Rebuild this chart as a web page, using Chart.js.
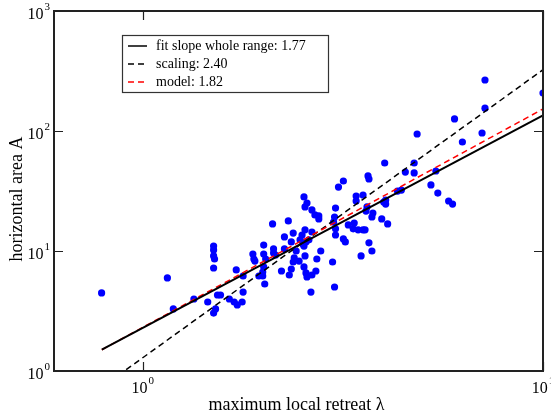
<!DOCTYPE html>
<html>
<head>
<meta charset="utf-8">
<script src="https://cdn.jsdelivr.net/npm/chart.js@4.4.1/dist/chart.umd.min.js"></script>
<style>
  html, body { margin: 0; padding: 0; background: #fff; }
</style>
</head>
<body>
<canvas id="retreatChart" width="551" height="419"></canvas>
<script>
// ── DATA ──
const retreat = [
  0.789, 1.152, 1.192, 1.342, 1.453, 1.503, 1.503, 1.503, 1.511, 1.503,
  1.537, 1.564, 1.520, 1.503, 1.645, 1.692, 1.722, 1.771, 1.781, 1.712,
  1.781, 1.884, 1.895, 1.906, 2.005, 2.005, 2.028, 2.005, 1.994, 1.994,
  1.950, 2.017, 2.110, 2.122, 2.122, 2.146, 2.221, 2.259, 2.259, 2.310,
  2.376, 2.350, 2.417, 2.390, 2.376, 2.458, 2.350, 2.323, 2.500, 2.543,
  2.646, 2.472, 2.514, 2.557, 2.601, 2.528, 2.543, 2.528, 2.557, 2.572,
  2.631, 2.646, 2.707, 2.722, 2.784, 2.528, 2.572, 2.543, 2.646, 2.692,
  2.753, 2.753, 2.980, 3.014, 3.031, 3.014, 2.997, 3.031, 3.031, 3.083,
  3.171, 3.171, 3.207, 3.262, 3.375, 3.356, 3.413, 3.413, 3.551, 3.452,
  3.551, 3.592, 3.511, 3.654, 3.674, 3.674, 3.737, 3.612, 3.633, 3.758,
  3.737, 3.954, 4.091, 4.022, 3.999, 4.045, 4.045, 4.329, 4.428, 4.529,
  4.765, 4.765, 4.847, 5.248, 5.399, 5.460, 5.810, 5.943, 6.011, 6.289,
  7.042, 7.162, 7.162, 10.0
];
const area = [
  4.47, 5.96, 3.29, 3.98, 3.76, 11.0, 10.2, 9.09, 8.58, 7.22,
  4.30, 4.30, 3.29, 3.04, 3.98, 3.76, 3.55, 3.76, 4.55, 6.95,
  6.19, 9.44, 8.58, 8.25, 11.2, 9.44, 8.58, 7.36, 6.68, 6.19,
  6.19, 5.31, 16.8, 10.4, 9.62, 9.26, 6.81, 13.1, 10.4, 17.8,
  14.1, 11.9, 10.0, 8.75, 8.10, 8.25, 7.08, 6.31, 13.6, 15.0,
  14.4, 12.4, 11.4, 11.9, 12.4, 11.0, 9.09, 7.36, 6.56, 6.07,
  4.55, 6.31, 6.81, 8.58, 10.0, 28.2, 25.1, 23.3, 22.0, 20.0,
  19.6, 18.5, 8.10, 5.01, 22.8, 19.2, 17.4, 15.3, 13.6, 34.1,
  38.3, 12.6, 11.9, 16.5, 17.1, 15.3, 28.7, 26.1, 29.3, 15.0,
  15.0, 15.0, 9.09, 42.2, 39.8, 11.7, 10.0, 21.5, 23.3, 20.7,
  19.2, 18.5, 16.8, 54.1, 25.6, 26.6, 24.6, 31.6, 32.2, 45.5,
  54.1, 44.7, 94.4, 35.5, 46.4, 30.4, 26.1, 24.6, 126, 81.0,
  96.2, 266, 155, 207
];

// power laws A = coef * lambda^slope
const fitSlope = 1.77,     fitCoef = 2.29;
const scalingSlope = 2.40, scalingCoef = 1.29;
const modelSlope = 1.82,   modelCoef = 2.31;
const lineRange = [0.79, 10];

const legendLabels = ['fit slope whole range: 1.77', 'scaling: 2.40', 'model: 1.82'];
const xTicks = [1, 10];
const yTicks = [1, 10, 100, 1000];
const xTitle = 'maximum local retreat \u03bb';
const yTitle = 'horizontal area A';

const SERIF = '"Liberation Serif", "DejaVu Serif", serif';

function powerLine(coef, slope) {
  return lineRange.map(x => ({ x, y: coef * Math.pow(x, slope) }));
}

// ── FRAME, TICKS, LABELS, LEGEND ──
function drawPow(ctx, exp, x, y, align) {
  ctx.font = '16px ' + SERIF;
  const wBase = ctx.measureText('10').width;
  ctx.font = '11px ' + SERIF;
  const wExp = ctx.measureText(String(exp)).width;
  const total = wBase + 1 + wExp;
  let left = align === 'right' ? x - total : x - total / 2;
  ctx.textAlign = 'left';
  ctx.textBaseline = 'alphabetic';
  ctx.font = '16px ' + SERIF;
  ctx.fillText('10', left, y);
  ctx.font = '11px ' + SERIF;
  ctx.fillText(String(exp), left + wBase + 1, y - 9);
}

const framePlugin = {
  id: 'frame',
  afterDatasetsDraw(chart) {
    const { ctx, chartArea: a, scales: { x, y } } = chart;
    ctx.save();
    ctx.fillStyle = '#000';
    ctx.strokeStyle = '#222';

    // ticks (inward, on all four sides)
    ctx.lineWidth = 1.2;
    const tl = 9;
    xTicks.forEach(v => {
      const px = Math.round(x.getPixelForValue(v)) + 0.5;
      ctx.beginPath();
      ctx.moveTo(px, a.bottom); ctx.lineTo(px, a.bottom - tl);
      ctx.moveTo(px, a.top);    ctx.lineTo(px, a.top + tl);
      ctx.stroke();
    });
    yTicks.forEach(v => {
      const py = Math.round(y.getPixelForValue(v)) + 0.5;
      ctx.beginPath();
      ctx.moveTo(a.left, py);  ctx.lineTo(a.left + tl, py);
      ctx.moveTo(a.right, py); ctx.lineTo(a.right - tl, py);
      ctx.stroke();
    });

    // frame
    ctx.lineWidth = 2;
    ctx.strokeRect(a.left, a.top, a.right - a.left, a.bottom - a.top);

    // tick labels
    xTicks.forEach(v => drawPow(ctx, Math.round(Math.log10(v)), x.getPixelForValue(v), a.bottom + 22, 'center'));
    yTicks.forEach(v => drawPow(ctx, Math.round(Math.log10(v)), a.left - 4, y.getPixelForValue(v) + 8, 'right'));

    // axis titles
    ctx.font = '18px ' + SERIF;
    ctx.textAlign = 'center';
    ctx.textBaseline = 'middle';
    ctx.fillText(xTitle, (a.left + a.right) / 2 - 2, 405);
    ctx.save();
    ctx.translate(17, (a.top + a.bottom) / 2 + 8);
    ctx.rotate(-Math.PI / 2);
    ctx.fillText(yTitle, 0, 0);
    ctx.restore();

    // legend box
    const bx = 122.5, by = 35.5, bw = 206, bh = 57;
    ctx.fillStyle = '#fff';
    ctx.fillRect(bx, by, bw, bh);
    ctx.lineWidth = 1.2;
    ctx.strokeStyle = '#333';
    ctx.strokeRect(bx, by, bw, bh);
    const styles = [
      { color: '#000', dash: [] },
      { color: '#000', dash: [6, 4] },
      { color: '#ff0000', dash: [6, 4] }
    ];
    ctx.font = '14px ' + SERIF;
    ctx.textAlign = 'left';
    ctx.textBaseline = 'middle';
    legendLabels.forEach((lab, i) => {
      const ry = 46 + i * 18;
      ctx.beginPath();
      ctx.setLineDash(styles[i].dash);
      ctx.strokeStyle = styles[i].color;
      ctx.lineWidth = 1.5;
      ctx.moveTo(128, ry); ctx.lineTo(147, ry);
      ctx.stroke();
      ctx.setLineDash([]);
      ctx.fillStyle = '#000';
      ctx.fillText(lab, 156, ry);
    });
    ctx.restore();
  }
};

// ── CHART ──
const ctx = document.getElementById('retreatChart').getContext('2d');
new Chart(ctx, {
  type: 'scatter',
  data: {
    datasets: [
      {
        label: 'data',
        data: retreat.map((r, i) => ({ x: r, y: area[i] })),
        backgroundColor: '#0000ff',
        borderWidth: 0,
        pointRadius: 3.6,
        order: 4
      },
      {
        label: legendLabels[1],
        data: powerLine(scalingCoef, scalingSlope),
        showLine: true,
        borderColor: '#000',
        borderWidth: 1.5,
        borderDash: [6, 4],
        pointRadius: 0,
        order: 3
      },
      {
        label: legendLabels[2],
        data: powerLine(modelCoef, modelSlope),
        showLine: true,
        borderColor: '#ff0000',
        borderWidth: 1.5,
        borderDash: [6, 4],
        pointRadius: 0,
        order: 2
      },
      {
        label: legendLabels[0],
        data: powerLine(fitCoef, fitSlope),
        showLine: true,
        borderColor: '#000',
        borderWidth: 2,
        pointRadius: 0,
        order: 1
      }
    ]
  },
  options: {
    responsive: false,
    animation: false,
    layout: { padding: { left: 54, right: 8, top: 11, bottom: 48 } },
    plugins: { legend: { display: false }, tooltip: { enabled: false } },
    scales: {
      x: { type: 'logarithmic', display: false, min: 0.63, max: 10 },
      y: { type: 'logarithmic', display: false, min: 1, max: 1000 }
    }
  },
  plugins: [framePlugin]
});
</script>
</body>
</html>
